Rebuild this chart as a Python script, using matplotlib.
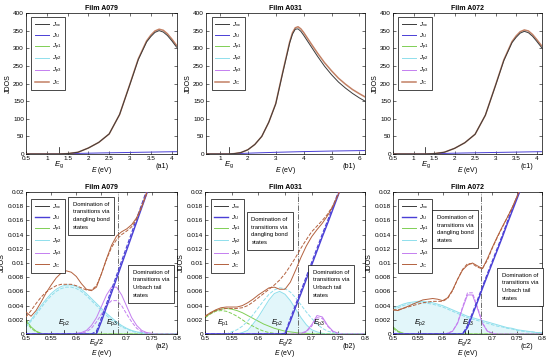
import matplotlib.pyplot as plt
from matplotlib import transforms

plt.rcParams['font.family'] = ['Liberation Sans', 'DejaVu Sans']
plt.rcParams['mathtext.fontset'] = 'custom'
plt.rcParams['mathtext.rm'] = 'Liberation Sans'
plt.rcParams['mathtext.it'] = 'Liberation Sans:italic'

#**********************************************************************
# Data
#**********************************************************************

# top row (full range)
E_a1 = [0.5, 1.0, 1.3, 1.5, 1.75, 2.0, 2.25, 2.5, 2.75, 3.0, 3.2, 3.4, 3.5, 3.6, 3.7, 3.8, 3.9, 4.0, 4.12]
Jvc_a1 = [0, 0, 0, 1, 5, 17, 33, 57, 112, 198, 268, 318, 333, 345, 350, 346, 336, 322, 303]
JC_a1 = [0, 0, 0, 1, 5, 17, 33, 57, 112, 199, 270, 321, 337, 349, 354, 351, 341, 327, 308]
JU_a1 = [0, 0, 0, 0.8, 1.6, 2.3, 2.9, 3.4, 3.9, 4.4, 4.8, 5.2, 5.4, 5.6, 5.8, 6.0, 6.2, 6.4, 6.6]

E_b1 = [0.5, 1.0, 1.3, 1.5, 1.75, 2.0, 2.25, 2.5, 2.75, 3.0, 3.25, 3.5, 3.6, 3.7, 3.8, 3.9, 4.0,
        4.25, 4.5, 4.75, 5.0, 5.25, 5.5, 5.75, 6.0, 6.2]
Jvc_b1 = [0, 0, 0, 1, 4, 12, 27, 50, 90, 142, 230, 315, 340, 354, 355, 348, 337,
          307, 277, 249, 225, 204, 187, 172, 159, 150]
JC_b1 = [0, 0, 0, 1, 4, 12, 27, 50, 90, 143, 232, 318, 344, 358, 361, 355, 345,
         315, 286, 259, 236, 215, 198, 183, 171, 162]
JU_b1 = [0, 0, 0, 0.7, 1.5, 2.3, 3.0, 3.6, 4.2, 4.8, 5.3, 5.8, 6.0, 6.2, 6.4, 6.6, 6.8,
         7.2, 7.6, 8.0, 8.4, 8.7, 9.0, 9.3, 9.6, 9.8]

E_c1 = [0.5, 1.0, 1.3, 1.5, 1.75, 2.0, 2.25, 2.5, 2.75, 3.0, 3.2, 3.4, 3.5, 3.6, 3.7, 3.8, 3.9, 4.0, 4.12]
Jvc_c1 = [0, 0, 0, 1, 5, 16, 32, 56, 110, 195, 265, 316, 331, 343, 348, 344, 334, 320, 302]
JC_c1 = [0, 0, 0, 1, 5, 16, 32, 56, 110, 196, 267, 319, 335, 347, 352, 349, 339, 325, 307]
JU_c1 = [0, 0, 0, 0.8, 1.6, 2.3, 2.9, 3.4, 3.9, 4.4, 4.8, 5.2, 5.4, 5.6, 5.8, 6.0, 6.2, 6.4, 6.6]

# bottom row (zoom near Eg/2)
E_lo = [0.50, 0.51, 0.52, 0.53, 0.54, 0.55, 0.56, 0.57, 0.58, 0.59, 0.60, 0.61, 0.62, 0.63, 0.64, 0.65,
        0.66, 0.67, 0.68, 0.69, 0.70, 0.71, 0.72, 0.73, 0.74, 0.75, 0.76, 0.77, 0.78, 0.79, 0.80]
Jvc_lo = [0.0] * 31

# Film A079
C_a2 = [0.0031, 0.0025, 0.0033, 0.0045, 0.0058, 0.0069, 0.0079, 0.0086, 0.0089, 0.0087, 0.0081, 0.0071, 0.0063, 0.0061, 0.0066, 0.0085,
        0.0106, 0.0125, 0.0138, 0.0144, 0.0148, 0.0154, 0.0164, 0.0180, 0.0200, 0.0222, 0.0244, 0.0266, 0.0288, 0.0310, 0.0332]
Cd_a2 = [0.0024, 0.0033, 0.0043, 0.0052, 0.0059, 0.0064, 0.0068, 0.0070, 0.0070, 0.0070, 0.0068, 0.0065, 0.0062, 0.0062, 0.0068, 0.0085,
         0.0105, 0.0122, 0.0133, 0.0140, 0.0145, 0.0151, 0.0162, 0.0179, 0.0198, 0.0220, 0.0242, 0.0264, 0.0286, 0.0308, 0.0330]
U_a2 = [0, 0, 0, 0, 0, 0, 0, 0, 0, 0, 0, 0, 0, 0, 0, 0.0018,
        0.0038, 0.0058, 0.0078, 0.0098, 0.0118, 0.0138, 0.0158, 0.0178, 0.0198, 0.0218, 0.0238, 0.0258, 0.0278, 0.0298, 0.0318]
Ud_a2 = [0, 0, 0, 0, 0, 0, 0, 0, 0, 0, 0, 0, 0, 0, 0.0004, 0.0023,
         0.0043, 0.0063, 0.0083, 0.0103, 0.0123, 0.0143, 0.0163, 0.0183, 0.0203, 0.0223, 0.0243, 0.0263, 0.0283, 0.0303, 0.0323]
P1_a2 = [0.0020, 0.0010, 0.0004, 0.0001] + [0.0] * 27
P1d_a2 = [0.0018, 0.0008, 0.0003, 0.0001] + [0.0] * 27
P2_a2 = [0.0012, 0.0020, 0.0030, 0.0040, 0.0049, 0.0057, 0.0063, 0.0067, 0.0069, 0.0069, 0.0067, 0.0063, 0.0057, 0.0050, 0.0043, 0.0036,
         0.0029, 0.0023, 0.0017, 0.0012, 0.0008, 0.0005, 0.0003, 0.0002, 0.0001, 0, 0, 0, 0, 0, 0]
P2d_a2 = [0.0010, 0.0018, 0.0027, 0.0037, 0.0046, 0.0054, 0.0060, 0.0064, 0.0066, 0.0066, 0.0064, 0.0060, 0.0054, 0.0047, 0.0040, 0.0033,
          0.0026, 0.0020, 0.0015, 0.0010, 0.0007, 0.0004, 0.0002, 0.0001, 0, 0, 0, 0, 0, 0, 0]
P3_a2 = [0, 0, 0, 0, 0, 0, 0, 0, 0, 0, 0.0001, 0.0002, 0.0005, 0.0012, 0.0023, 0.0039,
         0.0055, 0.0066, 0.0066, 0.0055, 0.0039, 0.0023, 0.0012, 0.0005, 0.0002, 0.0001, 0, 0, 0, 0, 0]
P3d_a2 = [0, 0, 0, 0, 0, 0, 0, 0, 0, 0, 0, 0.0001, 0.0003, 0.0008, 0.0017, 0.0028,
          0.0040, 0.0047, 0.0047, 0.0040, 0.0028, 0.0017, 0.0008, 0.0003, 0.0001, 0, 0, 0, 0, 0, 0]

# Film A031
C_b2 = [0.0025, 0.0030, 0.0034, 0.0037, 0.0038, 0.0038, 0.0038, 0.0040, 0.0044, 0.0049, 0.0055, 0.0060, 0.0065, 0.0066, 0.0063, 0.0063,
        0.0073, 0.0090, 0.0108, 0.0124, 0.0137, 0.0147, 0.0156, 0.0167, 0.0180, 0.0197, 0.0216, 0.0235, 0.0255, 0.0275, 0.0295]
Cd_b2 = [0.0025, 0.0029, 0.0033, 0.0035, 0.0036, 0.0036, 0.0036, 0.0037, 0.0040, 0.0045, 0.0051, 0.0057, 0.0063, 0.0069, 0.0076, 0.0085,
         0.0096, 0.0108, 0.0121, 0.0133, 0.0144, 0.0152, 0.0160, 0.0169, 0.0181, 0.0197, 0.0215, 0.0234, 0.0253, 0.0272, 0.0291]
U_b2 = [0, 0, 0, 0, 0, 0, 0, 0, 0, 0, 0, 0, 0, 0, 0, 0,
        0.0018, 0.0038, 0.0057, 0.0077, 0.0097, 0.0117, 0.0137, 0.0156, 0.0176, 0.0196, 0.0216, 0.0236, 0.0255, 0.0275, 0.0295]
Ud_b2 = [0, 0, 0, 0, 0, 0, 0, 0, 0, 0, 0, 0, 0, 0, 0, 0.0001,
         0.0022, 0.0042, 0.0061, 0.0081, 0.0101, 0.0121, 0.0141, 0.0160, 0.0180, 0.0200, 0.0220, 0.0240, 0.0259, 0.0279, 0.0299]
P1_b2 = [0.0023, 0.0029, 0.0033, 0.0035, 0.0036, 0.0035, 0.0033, 0.0030, 0.0026, 0.0022, 0.0018, 0.0014, 0.0011, 0.0008, 0.0006, 0.0004,
         0.0003, 0.0002, 0.0001, 0.0001, 0, 0, 0, 0, 0, 0, 0, 0, 0, 0, 0]
P1d_b2 = [0.0023, 0.0028, 0.0032, 0.0033, 0.0032, 0.0029, 0.0025, 0.0020, 0.0015, 0.0011, 0.0007, 0.0004, 0.0002, 0.0001] + [0.0] * 17
P2_b2 = [0, 0, 0, 0, 0, 0, 0, 0.0002, 0.0005, 0.0014, 0.0024, 0.0036, 0.0048, 0.0057, 0.0060, 0.0056,
         0.0047, 0.0035, 0.0023, 0.0013, 0.0006, 0.0003, 0.0001, 0, 0, 0, 0, 0, 0, 0, 0]
P2d_b2 = [0, 0, 0, 0, 0, 0.0003, 0.0006, 0.0011, 0.0018, 0.0027, 0.0037, 0.0047, 0.0056, 0.0062, 0.0065, 0.0064,
          0.0059, 0.0051, 0.0041, 0.0031, 0.0022, 0.0014, 0.0008, 0.0004, 0.0002, 0.0001, 0, 0, 0, 0, 0]
P3_b2 = [0, 0, 0, 0, 0, 0, 0, 0, 0, 0, 0, 0, 0, 0, 0, 0,
         0, 0, 0.0001, 0.0004, 0.0013, 0.0026, 0.0024, 0.0012, 0.0004, 0.0001, 0, 0, 0, 0, 0]
P3d_b2 = [0, 0, 0, 0, 0, 0, 0, 0, 0, 0, 0, 0, 0, 0, 0, 0,
          0, 0, 0, 0.0003, 0.0011, 0.0023, 0.0022, 0.0011, 0.0003, 0, 0, 0, 0, 0, 0]

# Film A072
C_c2 = [0.0034, 0.0033, 0.0036, 0.0039, 0.0042, 0.0045, 0.0048, 0.0049, 0.0050, 0.0049, 0.0047, 0.0051, 0.0062, 0.0077, 0.0090, 0.0097,
        0.0100, 0.0096, 0.0092, 0.0106, 0.0122, 0.0137, 0.0151, 0.0164, 0.0178, 0.0194, 0.0211, 0.0228, 0.0246, 0.0264, 0.0282]
Cd_c2 = [0.0034, 0.0034, 0.0036, 0.0038, 0.0040, 0.0042, 0.0044, 0.0045, 0.0046, 0.0046, 0.0046, 0.0050, 0.0061, 0.0077, 0.0091, 0.0099,
         0.0099, 0.0094, 0.0092, 0.0104, 0.0121, 0.0136, 0.0150, 0.0164, 0.0178, 0.0194, 0.0211, 0.0228, 0.0246, 0.0264, 0.0282]
U_c2 = [0, 0, 0, 0, 0, 0, 0, 0, 0, 0, 0, 0, 0, 0, 0, 0.0009,
        0.0027, 0.0045, 0.0064, 0.0082, 0.0100, 0.0118, 0.0136, 0.0155, 0.0173, 0.0191, 0.0209, 0.0227, 0.0245, 0.0264, 0.0282]
Ud_c2 = [0, 0, 0, 0, 0, 0, 0, 0, 0, 0, 0, 0, 0, 0, 0, 0.0012,
         0.0030, 0.0048, 0.0067, 0.0085, 0.0103, 0.0121, 0.0139, 0.0158, 0.0176, 0.0194, 0.0212, 0.0230, 0.0248, 0.0267, 0.0285]
P1_c2 = [0.0010, 0.0004, 0.0001] + [0.0] * 28
P1d_c2 = [0.0008, 0.0003, 0.0001] + [0.0] * 28
P2_c2 = [0.0036, 0.0039, 0.0042, 0.0044, 0.0045, 0.0046, 0.0046, 0.0045, 0.0044, 0.0042, 0.0040, 0.0037, 0.0034, 0.0031, 0.0028, 0.0025,
         0.0023, 0.0021, 0.0019, 0.0017, 0.0015, 0.0013, 0.0011, 0.0009, 0.0008, 0.0006, 0.0005, 0.0004, 0.0003, 0.0002, 0.0002]
P2d_c2 = [0.0033, 0.0037, 0.0040, 0.0042, 0.0043, 0.0044, 0.0044, 0.0043, 0.0042, 0.0040, 0.0038, 0.0035, 0.0032, 0.0029, 0.0026, 0.0023,
          0.0021, 0.0019, 0.0017, 0.0015, 0.0013, 0.0011, 0.0010, 0.0008, 0.0007, 0.0005, 0.0004, 0.0003, 0.0003, 0.0002, 0.0002]
P3_c2 = [0, 0, 0, 0, 0, 0, 0, 0, 0, 0, 0, 0.0001, 0.0004, 0.0015, 0.0036, 0.0055,
         0.0055, 0.0036, 0.0015, 0.0004, 0.0001, 0, 0, 0, 0, 0, 0, 0, 0, 0, 0]
P3d_c2 = [0, 0, 0, 0, 0, 0, 0, 0, 0, 0, 0, 0.0001, 0.0004, 0.0016, 0.0038, 0.0058,
          0.0058, 0.0038, 0.0016, 0.0004, 0.0001, 0, 0, 0, 0, 0, 0, 0, 0, 0, 0]

titles = ['Film A079', 'Film A031', 'Film A072']
Eg = [1.30, 1.31, 1.29]
Eg_half = [0.640, 0.651, 0.645]
E_split = [0.683, 0.675, 0.677]
Ep_a2 = {'p2': 0.575, 'p3': 0.672}
Ep_b2 = {'p1': 0.535, 'p2': 0.636, 'p3': 0.715}
Ep_c2 = {'p2': 0.555, 'p3': 0.652}

#**********************************************************************
# Style
#**********************************************************************

C_VC = '#3a3a3a'
C_U = '#4a3fd6'
C_P1 = '#80cf55'
C_P2 = '#8fdfec'
C_P3 = '#c47ef0'
C_C = '#b3613e'
LW = 0.7
FS = 4.6

W, H = 550, 358
fig = plt.figure(figsize=(5.5, 3.58), dpi=100)


def px_axes(l, t, r, b):
    return fig.add_axes([l / W, 1 - b / H, (r - l) / W, (b - t) / H])


def style(ax, title, tag, xpad):
    ax.tick_params(direction='in', top=True, right=True, labelsize=FS, length=2,
                   width=0.4, pad=1.5)
    for s in ax.spines.values():
        s.set_linewidth(0.5)
    ax.set_title(title, fontsize=5, fontweight='bold', pad=2)
    ax.set_ylabel('JDOS', fontsize=5, labelpad=1)
    ax.set_xlabel(r'$E$ (eV)', fontsize=5, labelpad=xpad)
    ax.text(0.9, -0.065, tag, transform=ax.transAxes, fontsize=5.2, ha='center', va='top')


def legend(ax, top):
    leg = ax.legend(loc='upper left', bbox_to_anchor=(0.035, top), borderaxespad=0,
                    fontsize=4.4, handlelength=2.3, labelspacing=0.32,
                    frameon=True, fancybox=False, edgecolor='k', framealpha=1,
                    borderpad=0.55, handletextpad=0.5)
    leg.get_frame().set_linewidth(0.5)


def top_panel(ax, E, jvc, ju, jc, p1, p2, p3, eg, title, tag, xlim, xticks):
    ax.plot(E, jvc, color=C_VC, lw=LW, label=r'$J_{\rm vc}$', zorder=4)
    ax.plot(E, ju, color=C_U, lw=LW, label=r'$J_{\rm U}$')
    ax.plot(E_lo, p1, color=C_P1, lw=LW, label=r'$J_{\rm p1}$')
    ax.plot(E_lo, p2, color=C_P2, lw=LW, label=r'$J_{\rm p2}$')
    ax.plot(E_lo, p3, color=C_P3, lw=LW, label=r'$J_{\rm p3}$')
    ax.plot(E, jc, color=C_C, lw=1.1, alpha=0.8, label=r'$J_{\rm C}$', zorder=3)
    ax.plot([eg, eg], [0, 20], color='k', lw=0.5)
    tr = transforms.blended_transform_factory(ax.transData, ax.transAxes)
    ax.text(eg, -0.035, r'$E_{\rm g}$', transform=tr, fontsize=5.5, ha='center', va='top')
    ax.set_xlim(*xlim)
    ax.set_ylim(0, 400)
    ax.set_xticks(xticks)
    ax.set_xticklabels([f'{v:g}' for v in xticks])
    ax.set_yticks(range(0, 401, 50))
    style(ax, title, tag, 3)
    legend(ax, 0.975)


def bottom_panel(ax, c, cd, u, ud, p1, p1d, p2, p2d, p3, p3d, eg2, esplit, eps, title, tag, boxes):
    ax.fill_between(E_lo, 0, p2, color=C_P2, alpha=0.25, lw=0)
    ax.plot(E_lo, Jvc_lo, color=C_VC, lw=LW, label=r'$J_{\rm vc}$')
    ax.plot(E_lo, u, color=C_U, lw=1.0, label=r'$J_{\rm U}$', zorder=4)
    ax.plot(E_lo, p1, color=C_P1, lw=LW, label=r'$J_{\rm p1}$')
    ax.plot(E_lo, p2, color=C_P2, lw=LW, label=r'$J_{\rm p2}$')
    ax.plot(E_lo, p3, color=C_P3, lw=LW, label=r'$J_{\rm p3}$')
    ax.plot(E_lo, c, color=C_C, lw=LW, label=r'$J_{\rm C}$', zorder=5)
    ax.plot(E_lo, ud, color=C_U, lw=0.8, ls='--', zorder=4)
    ax.plot(E_lo, p1d, color=C_P1, lw=LW, ls='--')
    ax.plot(E_lo, p2d, color=C_P2, lw=LW, ls='--')
    ax.plot(E_lo, p3d, color=C_P3, lw=LW, ls='--')
    ax.plot(E_lo, cd, color=C_C, lw=LW, ls='--', zorder=5)
    ax.axvline(esplit, color='#555555', lw=0.6, ls='-.')
    for name, ep in eps.items():
        ax.plot([ep, ep], [0, 0.0006], color='k', lw=0.5)
        ax.text(ep, 0.0008, r'$E_{\rm %s}$' % name, fontsize=5.3, ha='center', va='bottom')
    ax.plot([eg2, eg2], [0, 0.0006], color='k', lw=0.5)
    tr = transforms.blended_transform_factory(ax.transData, ax.transAxes)
    ax.text(eg2, -0.022, r'$E_{\rm g}/2$', transform=tr, fontsize=5, ha='center', va='top')
    ax.set_xlim(0.5, 0.8)
    ax.set_ylim(0, 0.02)
    xt = [0.5, 0.55, 0.6, 0.65, 0.7, 0.75, 0.8]
    ax.set_xticks(xt)
    ax.set_xticklabels(['0.5', '0.55', '0.6', '', '0.7', '0.75', '0.8'])
    yt = [0, 0.002, 0.004, 0.006, 0.008, 0.01, 0.012, 0.014, 0.016, 0.018, 0.02]
    ax.set_yticks(yt)
    ax.set_yticklabels([f'{v:g}' for v in yt])
    style(ax, title, tag, 5)
    legend(ax, 0.95)
    texts = ['Domination of\ntransitions via\ndangling bond\nstates',
             'Domination of\ntransitions via\nUrbach tail\nstates']
    for (bx, by), t in zip(boxes, texts):
        ax.text(bx, by, t, transform=ax.transAxes, fontsize=4.2, ha='left', va='top',
                linespacing=1.7, zorder=6,
                bbox=dict(boxstyle='square,pad=0.8', fc='white', ec='k', lw=0.5))


top_xt = [0.5, 1, 1.5, 2, 2.5, 3, 3.5, 4]
ax = px_axes(26, 13, 177, 154)
top_panel(ax, E_a1, Jvc_a1, JU_a1, JC_a1, P1_a2, P2_a2, P3_a2, Eg[0], titles[0], '(a1)',
          (0.5, 4.13), top_xt)
ax = px_axes(206, 13, 365, 154)
top_panel(ax, E_b1, Jvc_b1, JU_b1, JC_b1, P1_b2, P2_b2, P3_b2, Eg[1], titles[1], '(b1)',
          (0.5, 6.2), [1, 2, 3, 4, 5, 6])
ax = px_axes(393, 13, 542, 154)
top_panel(ax, E_c1, Jvc_c1, JU_c1, JC_c1, P1_c2, P2_c2, P3_c2, Eg[2], titles[2], '(c1)',
          (0.5, 4.13), top_xt)

ax = px_axes(26, 192, 177, 334)
bottom_panel(ax, C_a2, Cd_a2, U_a2, Ud_a2, P1_a2, P1d_a2, P2_a2, P2d_a2, P3_a2, P3d_a2,
             Eg_half[0], E_split[0], Ep_a2, titles[0], '(a2)', [(0.31, 0.932), (0.706, 0.453)])
ax = px_axes(205, 192, 365, 334)
bottom_panel(ax, C_b2, Cd_b2, U_b2, Ud_b2, P1_b2, P1d_b2, P2_b2, P2d_b2, P3_b2, P3d_b2,
             Eg_half[1], E_split[1], Ep_b2, titles[1], '(b2)', [(0.29, 0.826), (0.673, 0.453)])
ax = px_axes(393, 192, 542, 334)
bottom_panel(ax, C_c2, Cd_c2, U_c2, Ud_c2, P1_c2, P1d_c2, P2_c2, P2d_c2, P3_c2, P3d_c2,
             Eg_half[2], E_split[2], Ep_c2, titles[2], '(c2)', [(0.293, 0.84), (0.729, 0.432)])

plt.savefig('out.png', dpi=100)
